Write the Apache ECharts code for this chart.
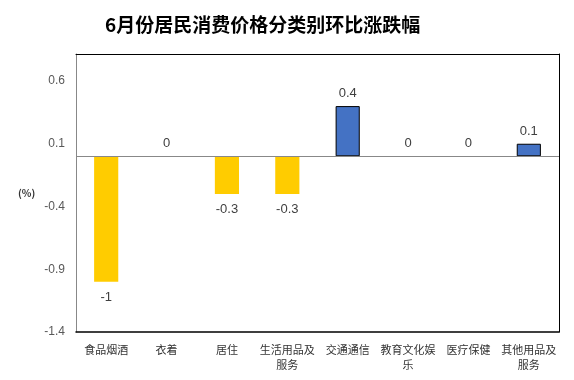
<!DOCTYPE html>
<html><head><meta charset="utf-8">
<script src="https://cdn.jsdelivr.net/npm/echarts@6/dist/echarts.min.js"></script>
<style>html,body{margin:0;padding:0;background:#fff}#c{width:574px;height:380px}</style>
</head><body><div id="c"></div>
<script>
const categories = ['食品烟酒','衣着','居住','生活用品及\n服务','交通通信','教育文化娱\n乐','医疗保健','其他用品及\n服务'];
const values = [-1, 0, -0.3, -0.3, 0.4, 0, 0, 0.1];
const yTicks = [-1.4, -0.9, -0.4, 0.1, 0.6];
const title = '6月份居民消费价格分类别环比涨跌幅';
const unit = '(%)';

const chart = echarts.init(document.getElementById('c'));
const data = values.map(v => ({
  value: v,
  itemStyle: v < 0 ? {color:'#FFCC00', borderWidth:0}
           : v === 0 ? {color:'rgba(0,0,0,0)', borderWidth:0}
           : {color:'#4472C4', borderColor:'#000', borderWidth:1},
  label: {position: v < 0 ? 'bottom' : 'top', distance: v < 0 ? 9 : 6}
}));
chart.setOption({
  animation:false,
  title:{text:title,left:100,top:10,textStyle:{fontFamily:'Noto Sans CJK SC',fontWeight:'bold',fontSize:19,color:'#000'}},
  grid:{left:76,right:15,top:54,bottom:48},
  graphic:[{type:'text',left:18,top:188,style:{text:unit,fontSize:10,fontWeight:'bold',fill:'#333',fontFamily:'Noto Sans CJK SC'}}],
  xAxis:[
    {type:'category',data:categories,position:'bottom',
     axisLine:{onZero:false,lineStyle:{color:'#000',width:1.5}},axisTick:{show:false},
     axisLabel:{interval:0,fontSize:11,color:'#333',fontFamily:'Noto Sans CJK SC',margin:10,lineHeight:15}},
    {type:'category',data:categories,position:'top',
     axisLine:{onZero:false,lineStyle:{color:'#000',width:1}},axisTick:{show:false},axisLabel:{show:false}}
  ],
  yAxis:[
    {type:'value',min:yTicks[0],max:0.815,interval:0.5,
     axisLine:{show:true,lineStyle:{color:'#888'}},axisTick:{show:false},splitLine:{show:false},
     axisLabel:{showMaxLabel:false,fontSize:12,color:'#595959',fontFamily:'Liberation Sans',margin:11,
       formatter:v=>String(Math.round(v*10)/10)}},
    {type:'value',min:yTicks[0],max:0.815,position:'right',
     axisLine:{show:true,lineStyle:{color:'#000'}},axisTick:{show:false},splitLine:{show:false},axisLabel:{show:false}}
  ],
  series:[{type:'bar',data:data,barWidth:'40%',
    label:{show:true,fontSize:13,color:'#404040',fontFamily:'Liberation Sans',formatter:p=>String(p.value)},
    markLine:{silent:true,symbol:'none',label:{show:false},lineStyle:{color:'#888',type:'solid',width:1},data:[{yAxis:0}]}
  }]
});
</script></body></html>
